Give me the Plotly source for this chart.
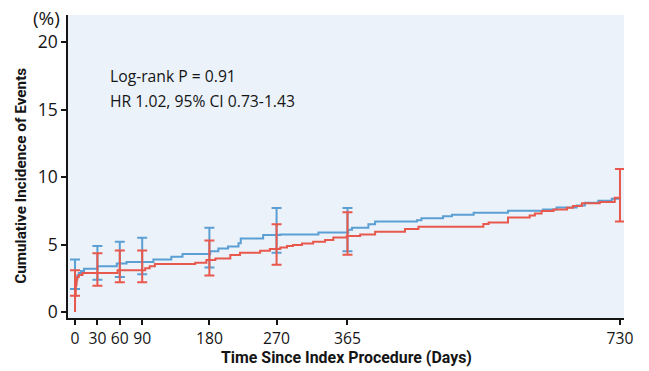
import plotly.graph_objects as go

# Kaplan-Meier style step curves (cumulative incidence, %)
blue_days = [0, 0, 1, 2, 3, 5, 8, 12, 30, 56, 69, 105, 129, 144, 181, 192, 205, 219, 222, 252, 275,
             326, 366, 371, 393, 402, 458, 464, 493, 505, 534, 580, 627, 645, 672, 683, 701, 719, 730]
blue_vals = [0, 1.7, 2.2, 2.5, 2.7, 2.9, 3.05, 3.2, 3.4, 3.6, 3.7, 3.9, 4.1, 4.3, 4.5, 4.7, 4.85, 5.1, 5.45, 5.7, 5.75,
             5.9, 6.1, 6.25, 6.5, 6.7, 6.8, 6.95, 7.1, 7.2, 7.35, 7.5, 7.6, 7.75, 7.9, 8.1, 8.25, 8.4, 8.5]

red_days = [0, 0, 1, 2, 3, 5, 10, 57, 94, 100, 107, 161, 176, 188, 208, 221, 248, 261, 275, 284,
            292, 304, 319, 335, 346, 364, 382, 402, 442, 460, 547, 554, 580, 609, 616, 625, 641, 659, 667,
            679, 703, 723, 730]
red_vals = [0, 1.2, 2.0, 2.4, 2.6, 2.75, 2.9, 3.1, 3.25, 3.4, 3.55, 3.65, 3.85, 3.97, 4.22, 4.4, 4.54, 4.67, 4.79, 4.9,
            4.96, 5.08, 5.2, 5.33, 5.53, 5.63, 5.75, 5.95, 6.15, 6.32, 6.52, 6.64, 7.0, 7.16, 7.3, 7.48, 7.6, 7.73, 7.85,
            8.05, 8.15, 8.47, 8.5]

# 95% confidence intervals at landmark times
blue_ci_days = [0, 30, 60, 90, 180, 270, 365]
blue_ci_low = [1.7, 2.4, 2.6, 2.8, 3.3, 4.4, 4.5]
blue_ci_high = [3.9, 4.9, 5.2, 5.5, 6.25, 7.7, 7.7]

red_ci_days = [0, 30, 60, 90, 180, 270, 365, 730]
red_ci_low = [1.2, 1.95, 2.2, 2.2, 2.7, 3.5, 4.25, 6.7]
red_ci_high = [3.1, 4.35, 4.55, 4.55, 5.3, 6.5, 7.4, 10.6]

x_ticks = [0, 30, 60, 90, 180, 270, 365, 730]
y_ticks = [0, 5, 10, 15, 20]

BLUE = "#5b9fd3"
RED = "#e8584c"
INK = "#151515"
FONT = "Open Sans"
TITLE_FONT = "Roboto"

fig = go.Figure()


def add_group(days, vals, ci_days, lo, hi, color):
    fig.add_trace(go.Scatter(x=days, y=vals, mode="lines", line=dict(color=color, width=2, shape="hv"),
                             showlegend=False, hoverinfo="skip"))
    fig.add_trace(go.Scatter(
        x=ci_days, y=lo, mode="markers", marker=dict(size=0.1, color=color, opacity=0),
        error_y=dict(type="data", symmetric=False,
                     array=[h - l for h, l in zip(hi, lo)],
                     arrayminus=[0] * len(lo),
                     color=color, thickness=2, width=5),
        showlegend=False, hoverinfo="skip"))


add_group(blue_days, blue_vals, blue_ci_days, blue_ci_low, blue_ci_high, BLUE)
add_group(red_days, red_vals, red_ci_days, red_ci_low, red_ci_high, RED)

fig.update_layout(
    width=649, height=371,
    margin=dict(l=68, r=25, t=15, b=53),
    paper_bgcolor="white",
    plot_bgcolor="#ebf2fa",
    font=dict(family=FONT, color=INK, size=16),
    showlegend=False,
)

fig.update_xaxes(
    range=[-9.4, 735.4], tickmode="array", tickvals=x_ticks, ticktext=[str(t) for t in x_ticks],
    showline=True, linecolor=INK, linewidth=1.5, ticks="outside", ticklen=5, tickwidth=1.5,
    tickcolor=INK, showgrid=False, zeroline=False, tickfont=dict(size=15.7, family=FONT, color=INK),
    automargin=False,
)
fig.update_yaxes(
    range=[-0.44, 22], tickmode="array", tickvals=y_ticks, ticktext=[str(t) for t in y_ticks],
    showline=True, linecolor=INK, linewidth=1.5, ticks="outside", ticklen=5, tickwidth=1.5,
    tickcolor=INK, showgrid=False, zeroline=False, tickfont=dict(size=17.5, family=FONT, color=INK),
    automargin=False,
)

fig.add_annotation(text="<b>Time Since Index Procedure (Days)</b>", xref="paper", yref="paper",
                   x=0.5, y=-0.132, xanchor="center", yanchor="middle", showarrow=False,
                   font=dict(size=15.9, family=TITLE_FONT, color=INK))
fig.add_annotation(text="<b>Cumulative Incidence of Events</b>", xref="paper", yref="paper",
                   x=-0.086, y=0.47, xanchor="center", yanchor="middle", textangle=-90,
                   showarrow=False, font=dict(size=15.3, family=TITLE_FONT, color=INK))
fig.add_annotation(text="(%)", xref="paper", yref="paper", x=-0.01, y=1.0, xanchor="right", yanchor="middle",
                   showarrow=False, font=dict(size=19, family=FONT, color=INK), yshift=-3)
fig.add_annotation(text="Log-rank P = 0.91", xref="paper", yref="paper", x=0.072, y=0.80,
                   xanchor="left", yanchor="middle", showarrow=False,
                   font=dict(size=15.7, family=FONT, color=INK))
fig.add_annotation(text="HR 1.02, 95% CI 0.73-1.43", xref="paper", yref="paper", x=0.072, y=0.717,
                   xanchor="left", yanchor="middle", showarrow=False,
                   font=dict(size=15.7, family=FONT, color=INK))

fig.write_html("out.html", config={"displayModeBar": False},
               post_script="document.body.style.margin='0';document.body.style.padding='0';")
